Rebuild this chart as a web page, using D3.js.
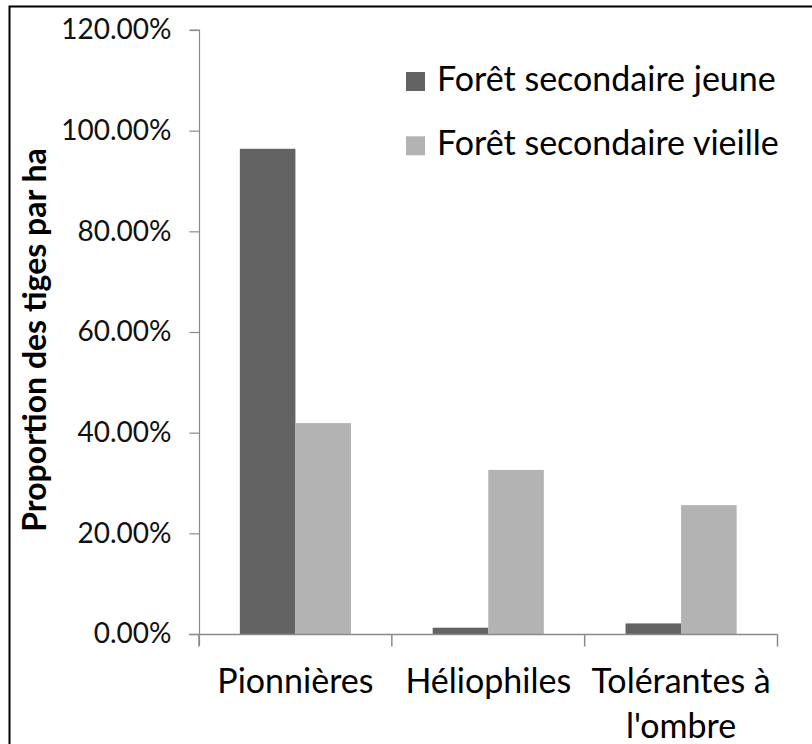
<!DOCTYPE html>
<html>
<head>
<meta charset="utf-8">
<script src="https://cdn.jsdelivr.net/npm/d3@7/dist/d3.min.js"></script>
<style>
  html, body { margin: 0; padding: 0; background: #fff; }
  svg { display: block; }
  text { font-family: Lato, "Open Sans", sans-serif; }
</style>
</head>
<body>
<svg id="chart" width="812" height="744"></svg>
<script>
// ---- data ----
const categories = ["Pionnières", "Héliophiles", "Tolérantes à l'ombre"];
const categoryLines = [["Pionnières"], ["Héliophiles"], ["Tolérantes à", "l'ombre"]];
const series = ["Forêt secondaire jeune", "Forêt secondaire vieille"];
const jeune = [0.964, 0.0125, 0.021];
const vieille = [0.419, 0.326, 0.256];
const yTicks = [0, 0.2, 0.4, 0.6, 0.8, 1.0, 1.2];
const yTitle = "Proportion des tiges par ha";

const colors = { "Forêt secondaire jeune": "#636363", "Forêt secondaire vieille": "#b3b3b3" };

const values = [jeune, vieille];
const rows = categories.map((c, i) => ({ cat: c, vals: series.map((s, j) => ({ s, v: values[j][i] })) }));

const svg = d3.select("#chart");

// border
svg.append("rect").attr("x", 9.5).attr("y", 6.5).attr("width", 812).attr("height", 744)
  .attr("fill", "none").attr("stroke", "#000").attr("stroke-width", 2);

const x0 = d3.scaleBand().domain(categories).range([199, 777.5]).paddingInner(0).paddingOuter(0);
const x1 = d3.scaleBand().domain(series).range([0, x0.bandwidth()]).paddingInner(0).paddingOuter(0.735);
const y = d3.scaleLinear().domain([0, 1.2]).range([634, 30]);

// bars
const g = svg.append("g");
g.selectAll("g.cat").data(rows).join("g")
  .attr("class", "cat")
  .attr("transform", d => `translate(${x0(d.cat)},0)`)
  .selectAll("rect").data(d => d.vals).join("rect")
  .attr("x", d => x1(d.s))
  .attr("width", x1.bandwidth())
  .attr("y", d => y(d.v))
  .attr("height", d => y(0) - y(d.v))
  .attr("fill", d => colors[d.s]);

// y axis
const yAxis = d3.axisLeft(y).tickValues(yTicks).tickFormat(d3.format(".2%")).tickSize(10).tickPadding(18);
const ya = svg.append("g").attr("transform", "translate(199.5,0)").call(yAxis);
ya.select(".domain").attr("stroke", "#8a8a8a").attr("stroke-width", 1.2)
  .attr("d", `M-10,${y(1.2)}H0V${y(0) + 12}`);
ya.selectAll(".tick line").attr("stroke", "#8a8a8a").attr("stroke-width", 1.2);
ya.selectAll(".tick text").attr("fill", "#111").style("font-size", "28px").style("font-family", "Lato, sans-serif");

// x axis
const xa = svg.append("g").attr("transform", `translate(0,${y(0) + 0.5})`);
xa.append("line").attr("x1", 189).attr("x2", x0.range()[1]).attr("stroke", "#8a8a8a").attr("stroke-width", 1.5);
const xTickPos = categories.map(c => x0(c)).concat([x0.range()[1]]);
xa.selectAll("line.xt").data(xTickPos).join("line").attr("class", "xt")
  .attr("x1", d => d).attr("x2", d => d).attr("y1", 0).attr("y2", 12)
  .attr("stroke", "#8a8a8a").attr("stroke-width", 1.5);

// category labels
const cl = svg.append("g");
categories.forEach((c, i) => {
  const t = cl.append("text").attr("x", x0(c) + x0.bandwidth() / 2).attr("y", 693)
    .attr("text-anchor", "middle").attr("fill", "#000").style("font-size", "34px");
  categoryLines[i].forEach((line, k) => {
    t.append("tspan").attr("x", x0(c) + x0.bandwidth() / 2).attr("dy", k === 0 ? 0 : 45).text(line);
  });
});

// y title
svg.append("text").attr("transform", "translate(46,340) rotate(-90)")
  .attr("text-anchor", "middle").attr("fill", "#000")
  .style("font-size", "32px").style("font-weight", "bold").text(yTitle);

// legend
const lg = svg.append("g").attr("transform", "translate(406,72)");
const li = lg.selectAll("g").data(series).join("g").attr("transform", (d, i) => `translate(0,${i * 64.3})`);
li.append("rect").attr("width", 19).attr("height", 19).attr("fill", d => colors[d]);
li.append("text").attr("x", 31).attr("y", 19).attr("fill", "#000").style("font-size", "34px").text(d => d);
</script>
</body>
</html>
